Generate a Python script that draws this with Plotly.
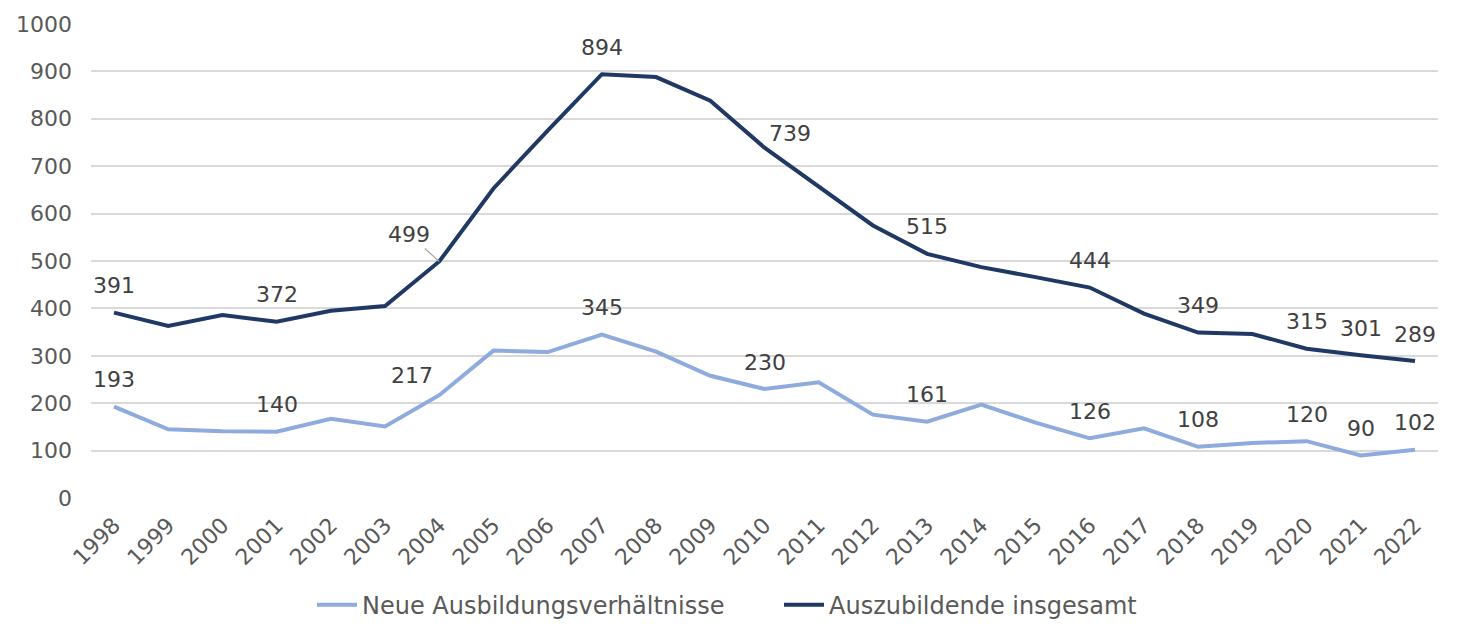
import plotly.graph_objects as go

years = [str(y) for y in range(1998, 2023)]
neue = [193, 145, 141, 140, 167, 151, 217, 311, 308, 345, 309, 258, 230, 244, 176, 161, 197, 159, 126, 147, 108, 116, 120, 90, 102]
gesamt = [391, 363, 386, 372, 395, 405, 499, 653, 775, 894, 888, 838, 739, 656, 575, 515, 487, 466, 444, 389, 349, 346, 315, 301, 289]
label_years = ["1998", "2001", "2004", "2007", "2010", "2013", "2016", "2018", "2020", "2021", "2022"]

series_names = ["Neue Ausbildungsverhältnisse", "Auszubildende insgesamt"]
colors = ["#8faadc", "#1f3864"]

FONT = "DejaVu Sans"
FS = 22
fig = go.Figure()
fig.add_trace(go.Scatter(x=years, y=neue, mode="lines", name=series_names[0],
                         line=dict(color=colors[0], width=4)))
fig.add_trace(go.Scatter(x=years, y=gesamt, mode="lines", name=series_names[1],
                         line=dict(color=colors[1], width=4)))

special = {("gesamt", "2010"): (25, 14), ("neue", "2004"): (-27, 20)}
for key, vals in (("neue", neue), ("gesamt", gesamt)):
    for yr in label_years:
        i = years.index(yr)
        v = vals[i]
        if key == "gesamt" and yr == "2004":
            fig.add_annotation(x=i, y=v, text=str(v), showarrow=True, ax=-30, ay=-27,
                               arrowhead=0, arrowwidth=1.2, arrowcolor="#a6a6a6", standoff=0,
                               font=dict(family=FONT, size=FS, color="#404040"))
            continue
        xs, ys = special.get((key, yr), (0, 27))
        fig.add_annotation(x=i, y=v, text=str(v), showarrow=False, xshift=xs, yshift=ys,
                           font=dict(family=FONT, size=FS, color="#404040"))

fig.update_layout(
    width=1461, height=639,
    margin=dict(l=83, r=31, t=15, b=148),
    paper_bgcolor="white", plot_bgcolor="white",
    font=dict(family=FONT, size=FS, color="#595959"),
    showlegend=True,
    legend=dict(orientation="h", x=(312 - 91) / 1347, xanchor="left", y=-0.223, yanchor="middle",
                font=dict(family=FONT, size=24, color="#595959"), itemwidth=40,
                entrywidth=412, traceorder="normal"),
    xaxis=dict(type="category", tickangle=-45, showgrid=False, zeroline=False,
               showline=False, ticks="", automargin=False, ticklabelstandoff=8,
               tickfont=dict(family=FONT, size=FS, color="#595959")),
    yaxis=dict(range=[-2, 1002], tickvals=list(range(0, 1001, 100)), showgrid=True,
               gridcolor="#d9d9d9", gridwidth=1.5, automargin=False, ticklabelstandoff=18,
               zeroline=False, showline=False, ticks="", ticklen=0,
               tickfont=dict(family=FONT, size=FS, color="#595959")),
)
fig.write_html("out.html")
